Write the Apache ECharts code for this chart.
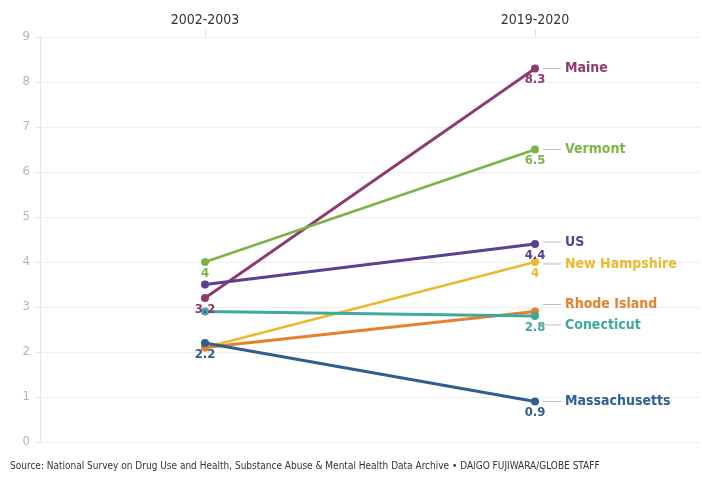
<!DOCTYPE html>
<html>
<head>
<meta charset="utf-8">
<script src="https://cdn.jsdelivr.net/npm/echarts@6/dist/echarts.min.js"></script>
<style>
  html, body { margin: 0; padding: 0; background: #fff; }
  #chart { width: 702px; height: 481px; }
</style>
</head>
<body>
<div id="chart"></div>
<script>
  // data
  const periods = ['2002-2003', '2019-2020']
  const states = ['Maine', 'Vermont', 'US', 'New Hampshire', 'Rhode Island', 'Conecticut', 'Massachusetts']
  const startValues = [3.2, 4, 3.5, 2.1, 2.1, 2.9, 2.2]
  const endValues = [8.3, 6.5, 4.4, 4, 2.9, 2.8, 0.9]
  const showStartLabel = [true, true, false, false, false, false, true]
  const showEndLabel = [true, true, true, true, false, true, true]
  const yTicks = [0, 9, 1] // min, max, interval

  // styling
  const colors = ['#8d3a70', '#7cb547', '#5a3f92', '#ecb830', '#e4812f', '#3fa9a0', '#2f5e91']
  const nameOffsets = [0, 0, -2, 2, -7, 9, 0]
  const font = '"DejaVu Sans Condensed", "Roboto", sans-serif'

  const chart = echarts.init(document.getElementById('chart'))

  const series = states.map((name, i) => ({
    name: name,
    type: 'line',
    data: [
      { value: startValues[i], label: { show: showStartLabel[i] } },
      { value: endValues[i], label: { show: showEndLabel[i] } }
    ],
    symbol: 'circle',
    symbolSize: 8,
    lineStyle: { width: 2.8, color: colors[i] },
    itemStyle: { color: colors[i] },
    label: {
      position: 'bottom',
      distance: 1,
      color: colors[i],
      fontFamily: font,
      fontWeight: 'bold',
      fontSize: 13
    },
    endLabel: {
      show: true,
      distance: 8,
      offset: [0, nameOffsets[i]],
      formatter: '{line|}{n|' + name + '}',
      rich: {
        line: { width: 18, height: 1, backgroundColor: '#bdbdbd' },
        n: { color: colors[i], fontFamily: font, fontWeight: 'bold', fontSize: 14, padding: [0, 0, 0, 4] }
      }
    },
    animation: false
  }))

  chart.setOption({
    grid: { left: 40, right: 2, top: 37, bottom: 39 },
    xAxis: {
      type: 'category',
      position: 'top',
      data: periods,
      boundaryGap: true,
      axisLine: { show: false, onZero: false },
      axisTick: { show: true, alignWithLabel: true, length: 7, lineStyle: { color: '#dddddd' } },
      axisLabel: { color: '#333', fontFamily: font, fontSize: 14, margin: 10 }
    },
    yAxis: {
      type: 'value',
      min: yTicks[0],
      max: yTicks[1],
      interval: yTicks[2],
      axisLine: { show: true, lineStyle: { color: '#e6e6e6' } },
      axisTick: { show: true, length: 5, lineStyle: { color: '#e6e6e6' } },
      axisLabel: { color: '#b5b5b5', fontFamily: font, fontSize: 13, margin: 10 },
      splitLine: { lineStyle: { color: '#eeeeee' } }
    },
    graphic: [{
      type: 'text',
      left: 10,
      top: 461,
      style: {
        text: 'Source: National Survey on Drug Use and Health, Substance Abuse & Mental Health Data Archive • DAIGO FUJIWARA/GLOBE STAFF',
        fontFamily: font,
        fontSize: 10,
        fill: '#333'
      }
    }],
    series: series
  })
</script>
</body>
</html>
